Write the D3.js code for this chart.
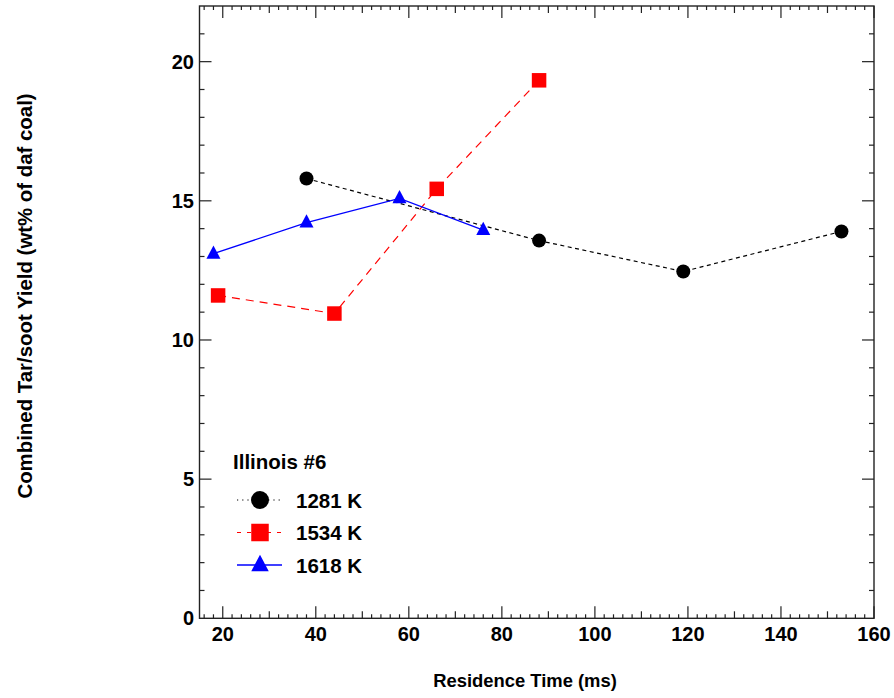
<!DOCTYPE html>
<html>
<head>
<meta charset="utf-8">
<script src="https://cdn.jsdelivr.net/npm/d3@7"></script>
<style>
  html, body { margin: 0; padding: 0; background: #fff; }
  svg text { font-family: Arial, "Liberation Sans", sans-serif; font-weight: bold; fill: #000; }
</style>
</head>
<body>
<svg id="chart" width="894" height="698"></svg>
<script>
// Residence time (ms) and combined tar/soot yield (wt% of daf coal), Illinois #6
const series1281Time  = [38, 88, 119, 153];
const series1281Yield = [15.8, 13.57, 12.46, 13.9];
const series1534Time  = [19, 44, 66, 88];
const series1534Yield = [11.6, 10.95, 15.43, 19.33];
const series1618Time  = [18, 38, 58, 76];
const series1618Yield = [13.1, 14.22, 15.09, 13.95];

const seriesNames   = ["1281 K", "1534 K", "1618 K"];
const xTickValues   = [20, 40, 60, 80, 100, 120, 140, 160];
const yTickValues   = [0, 5, 10, 15, 20];
const legendTitle   = "Illinois #6";
const xTitle        = "Residence Time (ms)";
const yTitle        = "Combined Tar/soot Yield (wt% of daf coal)";

const svg = d3.select("#chart");
const L = 199.5, R = 874, T = 6, B = 618.3;

const x = d3.scaleLinear().domain([15, 160]).range([L, R]);
const y = d3.scaleLinear().domain([0, 22]).range([B, T]);

const series = [
  { name: seriesNames[0], t: series1281Time, v: series1281Yield, color: "#000", dash: "4,3.5", legendDash: "1.2,4", shape: "circle", width: 1.2 },
  { name: seriesNames[1], t: series1534Time, v: series1534Yield, color: "#ff0000", dash: "8,6", legendDash: "4,6", shape: "square", width: 1.2 },
  { name: seriesNames[2], t: series1618Time, v: series1618Yield, color: "#0000ff", dash: null, legendDash: null, shape: "triangle", width: 1.3 }
];

// Ticks: minor every 2 ms / 1 %, medium every 10 ms, major on labelled values
const axisColor = "#222";
const g = svg.append("g");
const xMinor = d3.range(16, 160.1, 2);
xMinor.forEach(v => {
  const len = xTickValues.includes(v) ? 12 : (v % 10 === 0 ? 7 : 4);
  g.append("line").attr("x1", x(v)).attr("x2", x(v)).attr("y1", B).attr("y2", B - len)
    .attr("stroke", axisColor).attr("stroke-width", 1.2);
  g.append("line").attr("x1", x(v)).attr("x2", x(v)).attr("y1", T).attr("y2", T + len)
    .attr("stroke", axisColor).attr("stroke-width", 1.2);
});
const yMinor = d3.range(1, 22, 1);
yMinor.forEach(v => {
  const len = yTickValues.includes(v) ? 12 : 5;
  g.append("line").attr("y1", y(v)).attr("y2", y(v)).attr("x1", L).attr("x2", L + len)
    .attr("stroke", axisColor).attr("stroke-width", 1.2);
  g.append("line").attr("y1", y(v)).attr("y2", y(v)).attr("x1", R).attr("x2", R - len)
    .attr("stroke", axisColor).attr("stroke-width", 1.2);
});

// Frame
svg.append("rect").attr("x", L).attr("y", T).attr("width", R - L).attr("height", B - T)
  .attr("fill", "none").attr("stroke", axisColor).attr("stroke-width", 1.4);

// Tick labels
svg.append("g").selectAll("text").data(xTickValues).join("text")
  .attr("x", d => x(d)).attr("y", 641).attr("text-anchor", "middle")
  .attr("font-size", 20).text(d => d);
svg.append("g").selectAll("text").data(yTickValues).join("text")
  .attr("x", 194).attr("y", d => y(d) + 7).attr("text-anchor", "end")
  .attr("font-size", 20).text(d => d);

// Axis titles
svg.append("text").attr("x", 525).attr("y", 687).attr("text-anchor", "middle")
  .attr("font-size", 18.4).text(xTitle);
svg.append("text").attr("transform", "translate(32,296) rotate(-90)")
  .attr("text-anchor", "middle").attr("font-size", 20.4).text(yTitle);

function marker(sel, shape, color, size) {
  if (shape === "circle") {
    sel.append("circle").attr("r", size / 2).attr("fill", color);
  } else if (shape === "square") {
    sel.append("rect").attr("x", -size / 2).attr("y", -size / 2)
      .attr("width", size).attr("height", size).attr("fill", color);
  } else {
    const h = size * 0.95, w = size;
    sel.append("path").attr("d", `M0,${-h * 0.62}L${w / 2},${h * 0.38}L${-w / 2},${h * 0.38}Z`)
      .attr("fill", color);
  }
}

// Series lines and markers
const line = d3.line().x(d => x(d[0])).y(d => y(d[1]));
series.forEach(s => {
  const pts = s.t.map((t, i) => [t, s.v[i]]);
  svg.append("path").attr("d", line(pts)).attr("fill", "none")
    .attr("stroke", s.color).attr("stroke-width", s.width)
    .attr("stroke-dasharray", s.dash);
  const size = s.shape === "circle" ? 14 : (s.shape === "square" ? 14.5 : 14);
  pts.forEach(p => {
    const m = svg.append("g").attr("transform", `translate(${x(p[0])},${y(p[1])})`);
    marker(m, s.shape, s.color, size);
  });
});

// Legend
svg.append("text").attr("x", 233).attr("y", 469).attr("font-size", 20.5).text(legendTitle);
series.forEach((s, i) => {
  const cy = 500 + i * 32.5;
  svg.append("line").attr("x1", 237).attr("x2", 282).attr("y1", cy).attr("y2", cy)
    .attr("stroke", s.color).attr("stroke-width", s.width)
    .attr("stroke-dasharray", s.legendDash);
  const m = svg.append("g").attr("transform", `translate(260,${cy})`);
  marker(m, s.shape, s.color, s.shape === "circle" ? 18 : 17.5);
  svg.append("text").attr("x", 296).attr("y", cy + 7.5).attr("font-size", 20.5).text(s.name);
});
</script>
</body>
</html>
